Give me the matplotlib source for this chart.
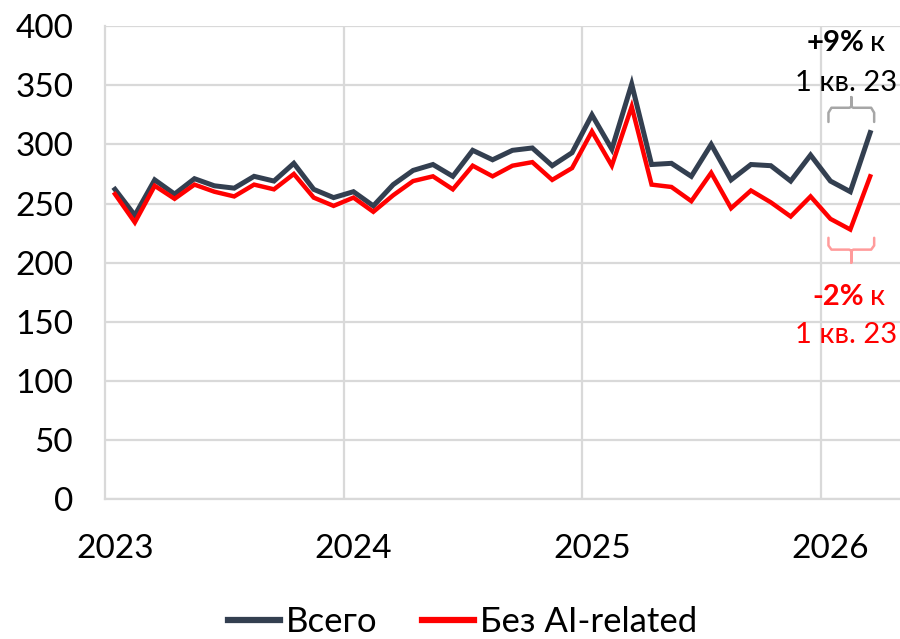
import numpy as np
import matplotlib
matplotlib.use("Agg")
import matplotlib.pyplot as plt

plt.rcParams['font.family'] = ['Lato', 'DejaVu Sans']

# monthly values, Jan 2023 .. Mar 2026
total = [262, 240, 270, 258, 271, 265, 263, 273, 269, 284,
         262, 255, 260, 248, 266, 278, 283, 273, 295, 287,
         295, 297, 282, 293, 325, 296, 351, 283, 284, 273,
         300, 270, 283, 282, 269, 291, 269, 260, 310]
no_ai = [258, 234, 265, 254, 266, 260, 256, 266, 262, 275,
         255, 248, 255, 243, 257, 269, 273, 262, 282, 273,
         282, 285, 270, 280, 311, 282, 332, 266, 264, 252,
         276, 246, 261, 251, 239, 256, 237, 228, 273]
year_labels = ['2023', '2024', '2025', '2026']

dark = '#333F50'
red = '#FF0000'
grid_c = '#D9D9D9'

x = np.arange(len(total))

fig = plt.figure(figsize=(9, 6.39), dpi=100)
ax = fig.add_axes([0.1167, 0.219, 0.8833, 0.74])

ax.plot(x, total, color=dark, lw=3.6, label='Всего', solid_joinstyle='miter', zorder=3)
ax.plot(x, no_ai, color=red, lw=3.2, label='Без AI-related', solid_joinstyle='miter', zorder=3)

ax.set_ylim(0, 400)
ax.set_xlim(-0.5, 39.5)
ax.set_yticks(range(0, 401, 50))
ax.set_xticks([11.5, 23.5, 35.5])
ax.set_xticklabels([])
ax.set_xticks([0, 12, 24, 36], minor=True)
ax.set_xticklabels(year_labels, minor=True)
ax.tick_params(axis='x', which='both', length=0)
ax.tick_params(axis='x', which='minor', labelsize=24, pad=25)
ax.tick_params(axis='y', length=0, labelsize=24, pad=23)
ax.grid(True, which='major', color=grid_c, lw=1.6)
ax.set_axisbelow(True)
for s in ['top', 'right']:
    ax.spines[s].set_visible(False)
for s in ['left', 'bottom']:
    ax.spines[s].set_color(grid_c)
    ax.spines[s].set_linewidth(1.6)


def brace(x0, x1, y_end, y_mid, y_tip, color):
    xm = (x0 + x1) / 2
    r = (y_mid - y_end) * 0.35
    xs = [x0, x0, x0 + 0.15, xm - 0.1, xm, xm, xm, xm + 0.1, x1 - 0.15, x1, x1]
    ys = [y_end, y_mid - r, y_mid, y_mid, y_mid + (y_tip - y_mid) * 0.1, y_tip,
          y_mid + (y_tip - y_mid) * 0.1, y_mid, y_mid, y_mid - r, y_end]
    ax.plot(xs, ys, color=color, lw=1.8, clip_on=False, solid_joinstyle='round',
            solid_capstyle='round')


brace(35.9, 38.2, 319, 331, 340, '#A6A6A6')
brace(35.9, 38.2, 221, 211, 200, '#FF9B9B')

ax.text(37.7, 386, '+9%', ha='right', va='center', fontsize=21, fontweight='bold',
        color='black', clip_on=False)
ax.text(38.0, 386, 'к', ha='left', va='center', fontsize=21, color='black', clip_on=False)
ax.text(36.8, 352, '1 кв. 23', ha='center', va='center', fontsize=21, color='black',
        clip_on=False)
ax.text(37.7, 171, '-2%', ha='right', va='center', fontsize=21, fontweight='bold',
        color=red, clip_on=False)
ax.text(38.0, 171, 'к', ha='left', va='center', fontsize=21, color=red, clip_on=False)
ax.text(36.8, 139, '1 кв. 23', ha='center', va='center', fontsize=21, color=red,
        clip_on=False)

leg = fig.legend(loc='center', bbox_to_anchor=(0.514, 0.027), ncol=2, frameon=False,
                 fontsize=25, handlelength=1.5, handletextpad=0.15, columnspacing=1.3)
for h in leg.get_lines():
    h.set_linewidth(4.5)

fig.savefig('out.png', dpi=100)
